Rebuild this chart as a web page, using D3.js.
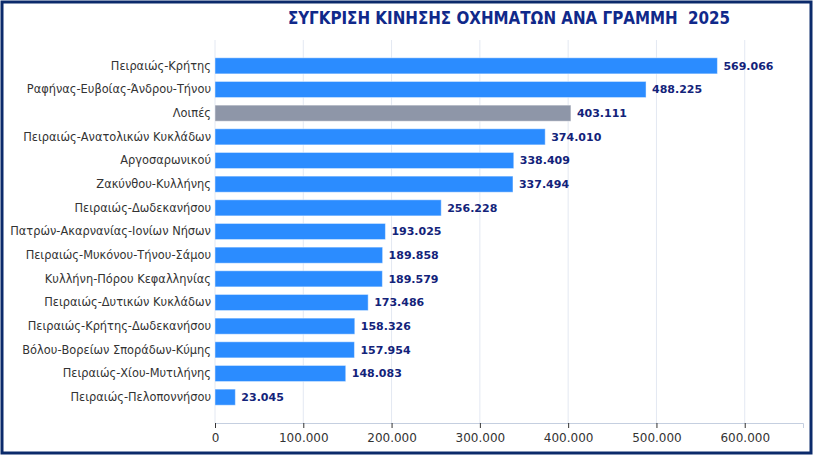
<!DOCTYPE html>
<html>
<head>
<meta charset="utf-8">
<script src="https://cdn.jsdelivr.net/npm/d3@7"></script>
<style>
  body { margin: 0; background: #fff; }
  svg { display: block; font-family: "DejaVu Sans", sans-serif; }
</style>
</head>
<body>
<script>
const title = "ΣΥΓΚΡΙΣΗ ΚΙΝΗΣΗΣ ΟΧΗΜΑΤΩΝ ΑΝΑ ΓΡΑΜΜΗ  2025";

const routes = [
  "Πειραιώς-Κρήτης",
  "Ραφήνας-Ευβοίας-Άνδρου-Τήνου",
  "Λοιπές",
  "Πειραιώς-Ανατολικών Κυκλάδων",
  "Αργοσαρωνικού",
  "Ζακύνθου-Κυλλήνης",
  "Πειραιώς-Δωδεκανήσου",
  "Πατρών-Ακαρνανίας-Ιονίων Νήσων",
  "Πειραιώς-Μυκόνου-Τήνου-Σάμου",
  "Κυλλήνη-Πόρου Κεφαλληνίας",
  "Πειραιώς-Δυτικών Κυκλάδων",
  "Πειραιώς-Κρήτης-Δωδεκανήσου",
  "Βόλου-Βορείων Σποράδων-Κύμης",
  "Πειραιώς-Χίου-Μυτιλήνης",
  "Πειραιώς-Πελοποννήσου"
];
const vehicles = [569066, 488225, 403111, 374010, 338409, 337494, 256228, 193025, 189858, 189579, 173486, 158326, 157954, 148083, 23045];
const xTicks = [0, 100000, 200000, 300000, 400000, 500000, 600000];

const w = 813;
const h = 456;
const padLeft = 215, padRight = 803, padTop = 40, padBottom = 423;

// greek style thousands separator
const fmt = d3.formatLocale({ decimal: ",", thousands: ".", grouping: [3], currency: ["", "€"] }).format(",d");

const svg = d3.select("body").append("svg")
  .attr("width", w)
  .attr("height", h);

// outer frame
svg.append("rect")
  .attr("x", 2).attr("y", 2)
  .attr("width", w - 4).attr("height", h - 5)
  .attr("fill", "none")
  .attr("stroke", "#0b2a6b")
  .attr("stroke-width", 3);

svg.append("text")
  .attr("x", (padLeft + padRight) / 2)
  .attr("y", 24)
  .attr("text-anchor", "middle")
  .style("font-family", "'DejaVu Sans Condensed', 'DejaVu Sans', sans-serif")
  .style("font-weight", "bold")
  .style("font-size", "16.8px")
  .attr("fill", "#10298a")
  .attr("xml:space", "preserve")
  .text(title);

const x = d3.scaleLinear().domain([0, 666000]).range([padLeft, padRight]);
const y = d3.scaleBand().domain(routes).range([padTop + 14, padBottom - 14]).paddingInner(0.32).paddingOuter(0.16);

// grid
svg.append("g")
  .selectAll("line")
  .data(xTicks)
  .join("line")
  .attr("x1", d => x(d)).attr("x2", d => x(d))
  .attr("y1", padTop).attr("y2", padBottom)
  .attr("stroke", "#e3e8f2")
  .attr("stroke-width", 1);

// x axis
const xAxis = svg.append("g")
  .attr("transform", "translate(0," + padBottom + ")")
  .call(d3.axisBottom(x).tickValues(xTicks).tickFormat(fmt).tickSize(5).tickPadding(5));
xAxis.select(".domain").attr("stroke", "#c5cfe0");
xAxis.selectAll(".tick line").attr("stroke", "#333");
xAxis.selectAll("text")
  .style("font-family", "'DejaVu Sans', sans-serif")
  .style("font-size", "12px")
  .attr("fill", "#333");

// category labels
svg.append("g")
  .selectAll("text")
  .data(routes)
  .join("text")
  .attr("x", padLeft - 4)
  .attr("y", d => y(d) + y.bandwidth() / 2)
  .attr("dy", "0.35em")
  .attr("text-anchor", "end")
  .style("font-size", "11.4px")
  .attr("fill", "#333")
  .text(d => d);

// bars
svg.append("g")
  .selectAll("rect")
  .data(vehicles)
  .join("rect")
  .attr("x", x(0))
  .attr("y", (d, i) => y(routes[i]))
  .attr("width", d => x(d) - x(0))
  .attr("height", y.bandwidth())
  .attr("fill", (d, i) => routes[i] === "Λοιπές" ? "#8e96a8" : "#2b8cff")
  .attr("stroke", "rgba(255,255,255,0.45)")
  .attr("stroke-width", 1);

// value labels
svg.append("g")
  .selectAll("text")
  .data(vehicles)
  .join("text")
  .attr("x", d => x(d) + 6)
  .attr("y", (d, i) => y(routes[i]) + y.bandwidth() / 2)
  .attr("dy", "0.35em")
  .style("font-size", "11px")
  .style("font-weight", "bold")
  .attr("fill", "#13237a")
  .text(d => fmt(d));
</script>
</body>
</html>
